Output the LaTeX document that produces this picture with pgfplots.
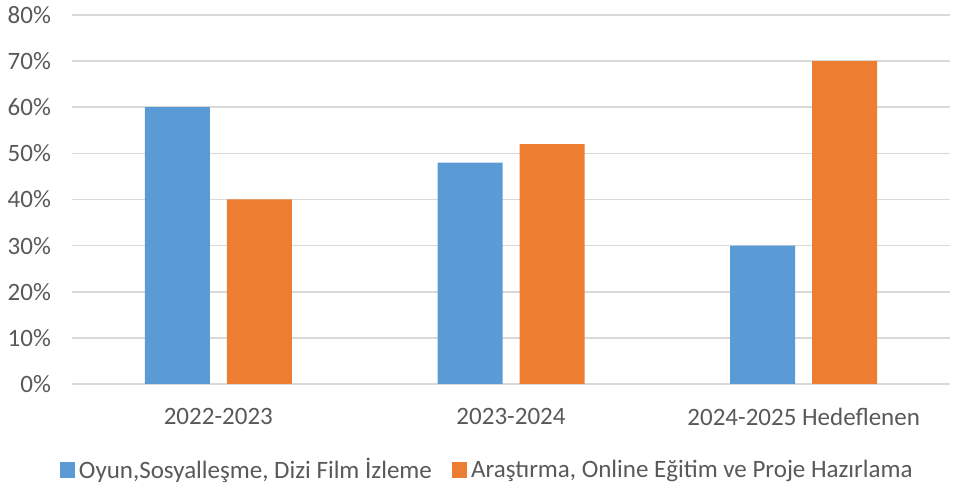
\documentclass[border=0pt]{standalone}
\usepackage{fontspec}
\setmainfont{Carlito}
\usepackage{pgfplots}
\pgfplotsset{compat=1.18}
\definecolor{sblue}{HTML}{5B9BD5}
\definecolor{sorange}{HTML}{ED7D31}
\definecolor{txt}{HTML}{595959}
\definecolor{gridc}{HTML}{D9D9D9}
\begin{document}
\begin{tikzpicture}
\begin{axis}[
  at={(0,0)}, anchor=south west,
  scale only axis, width=439pt, height=184.5pt,
  ybar, bar width=32.5pt,
  xmin=-0.5, xmax=2.5, ymin=0, ymax=80,
  xtick={0,1,2}, xticklabels={2022-2023,2023-2024,2024-2025 Hedeflenen},
  ytick={0,10,...,80},
  yticklabel={\pgfmathprintnumber{\tick}\%},
  /pgf/number format/assume math mode=true,
  ymajorgrids, grid style={draw=gridc, line width=0.8pt},
  axis line style={draw=none}, major tick length=0pt,
  tick label style={font=\fontsize{12.5}{15}\selectfont, text=txt},
  yticklabel style={xshift=-7pt},
  xticklabel style={yshift=-8.5pt},
  legend style={at={(0.474,0)}, anchor=center, yshift=-43pt, draw=none,
    legend columns=2, font=\fontsize{12.5}{15}\selectfont, text=txt,
    /tikz/every even column/.append style={column sep=8pt}},
  legend image code/.code={\fill[#1] (0pt,-3.8pt) rectangle (7.6pt,3.8pt);},
]
\addplot[fill=sblue, draw=none, bar shift=-20.5pt] coordinates {(0,60) (1,48) (2,30)};
\addlegendentry{Oyun,Sosyalleşme, Dizi Film İzleme}
\addplot[fill=sorange, draw=none, bar shift=20.5pt] coordinates {(0,40) (1,52) (2,70)};
\addlegendentry{Araştırma, Online Eğitim ve Proje Hazırlama}
\end{axis}
\pgfresetboundingbox
\path[use as bounding box] (-36pt,-53.5pt) rectangle (442.5pt,192pt);
\end{tikzpicture}
\end{document}
